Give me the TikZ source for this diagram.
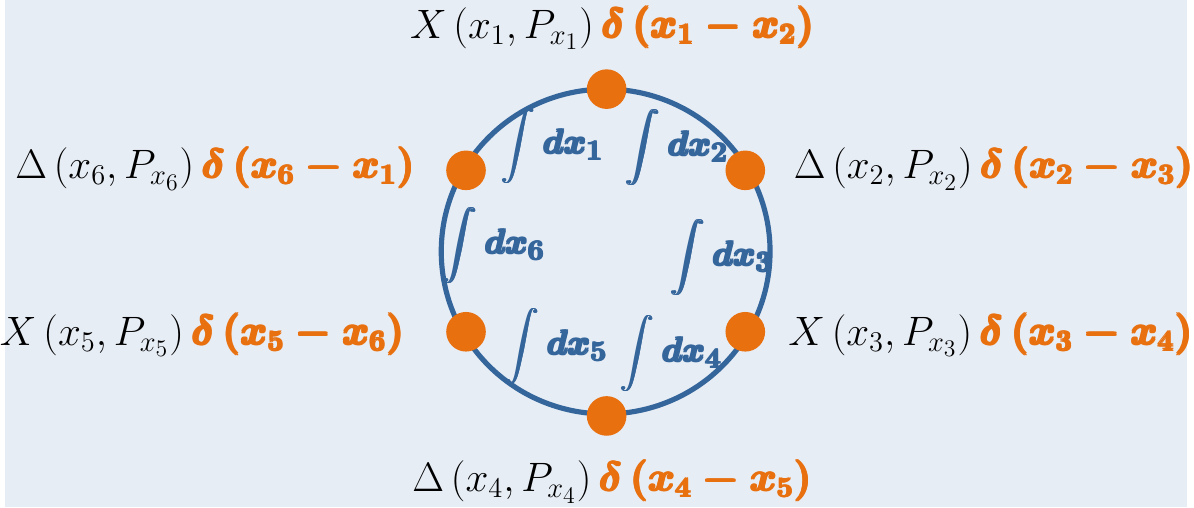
\documentclass[tikz,border=0pt]{standalone}
\usepackage{amsmath}
\DeclareMathSizes{20.5}{20.5}{15.5}{12}
\DeclareMathSizes{18}{18}{13.5}{10}
\definecolor{bgc}{RGB}{231,237,245}
\definecolor{ringc}{RGB}{52,101,155}
\definecolor{dotc}{RGB}{232,112,15}
\newcommand\fat[1]{\mbox{\setbox0\hbox{\boldmath$#1$}\rlap{\copy0}\rlap{\kern.9pt\copy0}\rlap{\raise.8pt\copy0}\rlap{\kern.45pt\raise.4pt\copy0}\kern.9pt\raise.8pt\copy0}}
\newcommand\fint{\mbox{\setbox0\hbox{$\displaystyle\int$}\rlap{\copy0}\rlap{\kern.8pt\copy0}\kern.8pt\raise.3pt\copy0}}
\tikzset{
  lbl/.style={inner sep=0pt, font=\fontsize{20.5}{24}\selectfont},
  intg/.style={inner sep=0pt, text=ringc, font=\fontsize{18}{22}\selectfont},
  vdot/.style={circle, fill=dotc, minimum size=20pt, inner sep=0pt},
}
\newcommand\lab[2]{$#1$\,\textcolor{dotc}{\fat{#2}}}
\newcommand\intx[1]{\fint\kern3pt\fat{dx_{#1}}}
\begin{document}
\begin{tikzpicture}[x=0.5pt,y=-0.5pt]
\fill[bgc] (0,0) rectangle (1194,512);
\draw[ringc, line width=2.6pt] (607,254) ellipse [x radius=166, y radius=164];
\node[vdot] (d1) at (608,90) {};
\node[vdot] (d2) at (748,172) {};
\node[vdot] (d3) at (748,335) {};
\node[vdot] (d4) at (608,420) {};
\node[vdot] (d5) at (466,335) {};
\node[vdot] (d6) at (466,172) {};
\node[lbl] (l1) at (614,28) {\lab{X\left(x_1,P_{x_1}\right)}{\delta\left(x_1-x_2\right)}};
\node[lbl] (l2) at (999,170) {\lab{\Delta\left(x_2,P_{x_2}\right)}{\delta\left(x_2-x_3\right)}};
\node[lbl] (l3) at (996,338) {\lab{X\left(x_3,P_{x_3}\right)}{\delta\left(x_3-x_4\right)}};
\node[lbl] (l4) at (614,486) {\lab{\Delta\left(x_4,P_{x_4}\right)}{\delta\left(x_4-x_5\right)}};
\node[lbl] (l5) at (200,338) {\lab{X\left(x_5,P_{x_5}\right)}{\delta\left(x_5-x_6\right)}};
\node[lbl] (l6) at (213,170) {\lab{\Delta\left(x_6,P_{x_6}\right)}{\delta\left(x_6-x_1\right)}};
\node[intg] (i1) at (553,147) {\intx{1}};
\node[intg] (i2) at (679,149) {\intx{2}};
\node[intg] (i3) at (724,260) {\intx{3}};
\node[intg] (i4) at (673,357) {\intx{4}};
\node[intg] (i5) at (557,350) {\intx{5}};
\node[intg] (i6) at (494,248) {\intx{6}};
\end{tikzpicture}
\end{document}
